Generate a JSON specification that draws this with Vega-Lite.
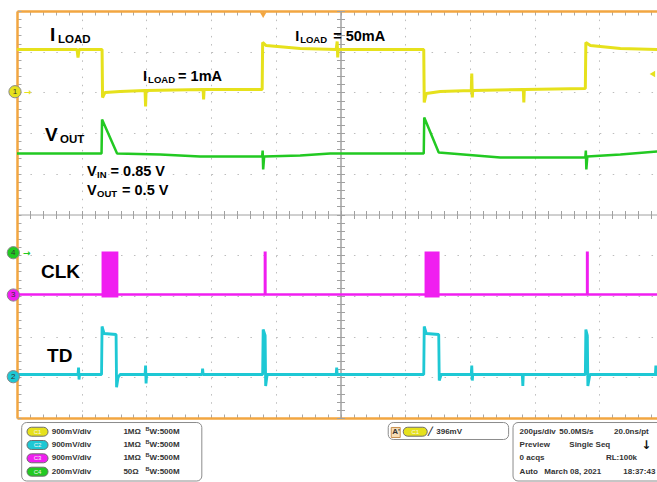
{
  "$schema": "https://vega.github.io/schema/vega-lite/v6.json",
  "width": 640,
  "height": 407,
  "autosize": {"type": "none"},
  "padding": {"left": 17, "top": 11, "right": 0, "bottom": 64},
  "background": "#ffffff",
  "config": {"view": {"stroke": null}},
  "resolve": {"axis": {"x": "independent", "y": "independent"}},
  "datasets": {
    "traces": [
      {"ch":"C1","t":0,"v":9.054},{"ch":"C1","t":133,"v":9.054},{"ch":"C1","t":185.5,"v":9.054},{"ch":"C1","t":188.6,"v":8.857},{"ch":"C1","t":191.7,"v":9.054},{"ch":"C1","t":262.9,"v":9.054},{"ch":"C1","t":264.4,"v":7.875},{"ch":"C1","t":272.1,"v":8.0},{"ch":"C1","t":318.5,"v":8.022},{"ch":"C1","t":395.8,"v":8.047},{"ch":"C1","t":397.4,"v":7.654},{"ch":"C1","t":398.9,"v":8.047},{"ch":"C1","t":575.2,"v":8.071},{"ch":"C1","t":576.7,"v":7.826},{"ch":"C1","t":578.3,"v":8.071},{"ch":"C1","t":757.7,"v":8.071},{"ch":"C1","t":759.2,"v":9.226},{"ch":"C1","t":770,"v":9.152},{"ch":"C1","t":875.2,"v":9.079},{"ch":"C1","t":986.5,"v":9.054},{"ch":"C1","t":989.6,"v":9.251},{"ch":"C1","t":991.2,"v":8.857},{"ch":"C1","t":992.7,"v":9.054},{"ch":"C1","t":1257.1,"v":9.054},{"ch":"C1","t":1258.6,"v":7.752},{"ch":"C1","t":1264.8,"v":7.973},{"ch":"C1","t":1308.1,"v":8.022},{"ch":"C1","t":1404,"v":8.047},{"ch":"C1","t":1405.5,"v":8.464},{"ch":"C1","t":1407.1,"v":7.875},{"ch":"C1","t":1408.6,"v":8.047},{"ch":"C1","t":1564.8,"v":8.071},{"ch":"C1","t":1566.4,"v":7.752},{"ch":"C1","t":1567.9,"v":8.071},{"ch":"C1","t":1756.5,"v":8.096},{"ch":"C1","t":1758.1,"v":9.226},{"ch":"C1","t":1772,"v":9.152},{"ch":"C1","t":1864.8,"v":9.079},{"ch":"C1","t":1979.2,"v":9.054},
      {"ch":"C4","t":0,"v":6.499},{"ch":"C4","t":133,"v":6.499},{"ch":"C4","t":261.3,"v":6.499},{"ch":"C4","t":262.9,"v":7.334},{"ch":"C4","t":309.3,"v":6.499},{"ch":"C4","t":442.2,"v":6.474},{"ch":"C4","t":565.9,"v":6.425},{"ch":"C4","t":757.7,"v":6.425},{"ch":"C4","t":759.2,"v":6.572},{"ch":"C4","t":760.8,"v":6.106},{"ch":"C4","t":763.9,"v":6.425},{"ch":"C4","t":875.2,"v":6.45},{"ch":"C4","t":967.9,"v":6.499},{"ch":"C4","t":1257.1,"v":6.499},{"ch":"C4","t":1258.6,"v":7.383},{"ch":"C4","t":1303.4,"v":6.523},{"ch":"C4","t":1493.7,"v":6.4},{"ch":"C4","t":1756.5,"v":6.4},{"ch":"C4","t":1758.1,"v":6.572},{"ch":"C4","t":1759.6,"v":6.106},{"ch":"C4","t":1762.7,"v":6.425},{"ch":"C4","t":1864.8,"v":6.474},{"ch":"C4","t":1979.2,"v":6.548},
      {"ch":"C3","t":0,"v":3.034},{"ch":"C3","t":1979.2,"v":3.034},
      {"ch":"C2","t":0,"v":1.069},{"ch":"C2","t":188.6,"v":1.069},{"ch":"C2","t":190.2,"v":1.241},{"ch":"C2","t":191.7,"v":0.946},{"ch":"C2","t":193.3,"v":1.069},{"ch":"C2","t":261.3,"v":1.069},{"ch":"C2","t":262.9,"v":2.248},{"ch":"C2","t":269.0,"v":2.076},{"ch":"C2","t":306.2,"v":2.052},{"ch":"C2","t":307.7,"v":0.757},{"ch":"C2","t":312.3,"v":0.995},{"ch":"C2","t":318.5,"v":1.069},{"ch":"C2","t":395.8,"v":1.069},{"ch":"C2","t":397.4,"v":1.29},{"ch":"C2","t":398.9,"v":0.848},{"ch":"C2","t":400.5,"v":1.069},{"ch":"C2","t":572.1,"v":1.069},{"ch":"C2","t":573.6,"v":1.216},{"ch":"C2","t":575.2,"v":1.069},{"ch":"C2","t":759.2,"v":1.069},{"ch":"C2","t":760.8,"v":2.174},{"ch":"C2","t":766.9,"v":2.027},{"ch":"C2","t":768.5,"v":0.786},{"ch":"C2","t":773.1,"v":1.069},{"ch":"C2","t":986.5,"v":1.069},{"ch":"C2","t":988.0,"v":1.241},{"ch":"C2","t":989.6,"v":1.069},{"ch":"C2","t":1257.1,"v":1.069},{"ch":"C2","t":1258.6,"v":2.248},{"ch":"C2","t":1264.8,"v":2.076},{"ch":"C2","t":1303.4,"v":2.052},{"ch":"C2","t":1305.0,"v":0.921},{"ch":"C2","t":1311.2,"v":1.069},{"ch":"C2","t":1404.0,"v":1.069},{"ch":"C2","t":1405.5,"v":1.29},{"ch":"C2","t":1407.1,"v":0.921},{"ch":"C2","t":1408.6,"v":1.069},{"ch":"C2","t":1561.7,"v":1.069},{"ch":"C2","t":1563.3,"v":0.786},{"ch":"C2","t":1564.8,"v":1.069},{"ch":"C2","t":1756.5,"v":1.069},{"ch":"C2","t":1758.1,"v":2.174},{"ch":"C2","t":1762.7,"v":2.027},{"ch":"C2","t":1764.3,"v":0.786},{"ch":"C2","t":1770.5,"v":1.069},{"ch":"C2","t":1973.0,"v":1.069},{"ch":"C2","t":1974.5,"v":1.29},{"ch":"C2","t":1976.1,"v":1.069},{"ch":"C2","t":1979.2,"v":1.069}
    ],
    "bursts": [
      {"t1":261.3,"t2":313.3,"v1":2.961,"v2":4.091},
      {"t1":762.3,"t2":771.6,"v1":3.034,"v2":4.091},
      {"t1":1259.6,"t2":1306.0,"v1":2.961,"v2":4.091},
      {"t1":1758.1,"t2":1767.3,"v1":3.034,"v2":4.091}
    ]
  },
  "layer": [
    {
      "data": {"name": "traces"},
      "mark": {"type": "line", "strokeJoin": "bevel", "strokeCap": "butt"},
      "encoding": {
        "x": {"field": "t", "type": "quantitative", "scale": {"domain": [0, 1978], "nice": false, "zero": false},
          "axis": {"orient": "bottom", "offset": -407, "values": [0,40,80,120,160,200,240,280,320,360,400,440,480,520,560,600,640,680,720,760,800,840,880,920,960,1000,1040,1080,1120,1160,1200,1240,1280,1320,1360,1400,1440,1480,1520,1560,1600,1640,1680,1720,1760,1800,1840,1880,1920,1960],
            "labels": false, "title": null, "grid": false, "domain": true, "domainColor": "#f2a641", "domainWidth": 2.5, "ticks": true, "tickColor": "#a8a8a8", "tickSize": 4, "tickWidth": 1}},
        "y": {"field": "v", "type": "quantitative", "scale": {"domain": [0, 10], "nice": false, "zero": false},
          "axis": {"orient": "right", "offset": -640, "values": [0,0.2,0.4,0.6,0.8,1,1.2,1.4,1.6,1.8,2,2.2,2.4,2.6,2.8,3,3.2,3.4,3.6,3.8,4,4.2,4.4,4.6,4.8,5,5.2,5.4,5.6,5.8,6,6.2,6.4,6.6,6.8,7,7.2,7.4,7.6,7.8,8,8.2,8.4,8.6,8.8,9,9.2,9.4,9.6,9.8,10],
            "labels": false, "title": null, "grid": false, "domain": true, "domainColor": "#f2a641", "domainWidth": 2.5, "ticks": true, "tickColor": "#a8a8a8", "tickSize": 4, "tickWidth": 1}},
        "color": {"field": "ch", "type": "nominal", "scale": {"domain": ["C1","C2","C3","C4"], "range": ["#e6e11c","#1ec8d4","#f01ef0","#22c922"]}, "legend": null},
        "strokeWidth": {"field": "ch", "type": "ordinal", "scale": {"domain": ["C1","C2","C3","C4"], "range": [3, 2.5, 4.5, 3.5]}, "legend": null}
      }
    },
    {
      "data": {"name": "bursts"},
      "mark": {"type": "rect", "color": "#f01ef0"},
      "encoding": {
        "x": {"field": "t1", "type": "quantitative",
          "axis": {"orient": "top", "offset": -407, "values": [0,40,80,120,160,200,240,280,320,360,400,440,480,520,560,600,640,680,720,760,800,840,880,920,960,1000,1040,1080,1120,1160,1200,1240,1280,1320,1360,1400,1440,1480,1520,1560,1600,1640,1680,1720,1760,1800,1840,1880,1920,1960],
            "labels": false, "title": null, "grid": false, "domain": true, "domainColor": "#f2a641", "domainWidth": 2.5, "ticks": true, "tickColor": "#a8a8a8", "tickSize": 4, "tickWidth": 1}},
        "x2": {"field": "t2"},
        "y": {"field": "v1", "type": "quantitative",
          "axis": {"orient": "left", "values": [1,2,3,4,6,7,8,9], "grid": true, "gridColor": "#bdbdbd", "gridDash": [1.5, 11.44], "gridWidth": 1, "domain": false, "ticks": false, "labels": false, "title": null}},
        "y2": {"field": "v2"}
      }
    },
    {
      "data": {"values": [
        {"t":102.1,"v":9.251,"text":"I"},{"t":86.6,"v":6.794,"text":"V"},{"t":74.2,"v":3.452,"text":"CLK"},{"t":92.8,"v":1.388,"text":"TD"}
      ]},
      "mark": {"type": "text", "align": "left", "baseline": "alphabetic", "font": "Liberation Sans", "fontWeight": "bold", "fontSize": 19, "color": "#000000"},
      "encoding": {
        "x": {"field": "t", "type": "quantitative",
          "axis": {"orient": "bottom", "values": [200,400,600,800,1200,1400,1600,1800], "grid": true, "gridColor": "#bdbdbd", "gridDash": [1.5, 6.64], "gridWidth": 1, "domain": false, "ticks": false, "labels": false, "title": null}},
        "y": {"field": "v", "type": "quantitative",
          "axis": {"orient": "right", "offset": -316.5, "values": [0,0.2,0.4,0.6,0.8,1,1.2,1.4,1.6,1.8,2,2.2,2.4,2.6,2.8,3,3.2,3.4,3.6,3.8,4,4.2,4.4,4.6,4.8,5,5.2,5.4,5.6,5.8,6,6.2,6.4,6.6,6.8,7,7.2,7.4,7.6,7.8,8,8.2,8.4,8.6,8.8,9,9.2,9.4,9.6,9.8,10],
            "labels": false, "title": null, "grid": false, "domain": true, "domainColor": "#a0a0a0", "domainWidth": 1, "ticks": true, "tickColor": "#a0a0a0", "tickSize": 4, "tickWidth": 1}},
        "text": {"field": "text", "type": "nominal"}
      }
    },
    {
      "data": {"values": [
        {"t":126.8,"v":9.226,"text":"LOAD"},{"t":133,"v":6.769,"text":"OUT"}
      ]},
      "mark": {"type": "text", "align": "left", "baseline": "alphabetic", "font": "Liberation Sans", "fontWeight": "bold", "fontSize": 11.5, "color": "#000000"},
      "encoding": {
        "x": {"field": "t", "type": "quantitative",
          "axis": {"orient": "bottom", "offset": -203.5, "values": [0,40,80,120,160,200,240,280,320,360,400,440,480,520,560,600,640,680,720,760,800,840,880,920,960,1000,1040,1080,1120,1160,1200,1240,1280,1320,1360,1400,1440,1480,1520,1560,1600,1640,1680,1720,1760,1800,1840,1880,1920,1960],
            "labels": false, "title": null, "grid": false, "domain": true, "domainColor": "#a0a0a0", "domainWidth": 1, "ticks": true, "tickColor": "#a0a0a0", "tickSize": 4, "tickWidth": 1}},
        "y": {"field": "v", "type": "quantitative",
          "axis": {"orient": "left", "offset": -323.5, "values": [0,0.2,0.4,0.6,0.8,1,1.2,1.4,1.6,1.8,2,2.2,2.4,2.6,2.8,3,3.2,3.4,3.6,3.8,4,4.2,4.4,4.6,4.8,5,5.2,5.4,5.6,5.8,6,6.2,6.4,6.6,6.8,7,7.2,7.4,7.6,7.8,8,8.2,8.4,8.6,8.8,9,9.2,9.4,9.6,9.8,10],
            "labels": false, "title": null, "grid": false, "domain": true, "domainColor": "#a0a0a0", "domainWidth": 1, "ticks": true, "tickColor": "#a0a0a0", "tickSize": 4, "tickWidth": 1}},
        "text": {"field": "text", "type": "nominal"}
      }
    },
    {
      "data": {"values": [
        {"t":389.7,"v":8.268,"text":"I"},{"t":497.9,"v":8.268,"text":"= 1mA"},
        {"t":859.7,"v":9.251,"text":"I"},{"t":977.2,"v":9.251,"text":"= 50mA"},
        {"t":216.5,"v":5.934,"text":"V"},{"t":289.2,"v":5.934,"text":"= 0.85 V"},
        {"t":216.5,"v":5.491,"text":"V"},{"t":324.7,"v":5.491,"text":"= 0.5 V"}
      ]},
      "mark": {"type": "text", "align": "left", "baseline": "alphabetic", "font": "Liberation Sans", "fontWeight": "bold", "fontSize": 14.5, "color": "#000000"},
      "encoding": {
        "x": {"field": "t", "type": "quantitative",
          "axis": {"orient": "top", "offset": -203.5, "values": [0,40,80,120,160,200,240,280,320,360,400,440,480,520,560,600,640,680,720,760,800,840,880,920,960,1000,1040,1080,1120,1160,1200,1240,1280,1320,1360,1400,1440,1480,1520,1560,1600,1640,1680,1720,1760,1800,1840,1880,1920,1960],
            "labels": false, "title": null, "grid": false, "domain": false, "ticks": true, "tickColor": "#a0a0a0", "tickSize": 4, "tickWidth": 1}},
        "y": {"field": "v", "type": "quantitative", "axis": null},
        "text": {"field": "text", "type": "nominal"}
      }
    },
    {
      "data": {"values": [
        {"t":405.1,"v":8.219,"text":"LOAD"},{"t":875.2,"v":9.214,"text":"LOAD"},
        {"t":247.4,"v":5.885,"text":"IN"},{"t":247.4,"v":5.442,"text":"OUT"}
      ]},
      "mark": {"type": "text", "align": "left", "baseline": "alphabetic", "font": "Liberation Sans", "fontWeight": "bold", "fontSize": 9.5, "color": "#000000"},
      "encoding": {
        "x": {"field": "t", "type": "quantitative", "axis": null},
        "y": {"field": "v", "type": "quantitative", "axis": null},
        "text": {"field": "text", "type": "nominal"}
      }
    },
    {
      "data": {"values": [
        {"ch":"C1","n":"1","t":-6.2,"v":8.017},{"ch":"C4","n":"4","t":-11.4,"v":4.061},
        {"ch":"C3","n":"3","t":-11.4,"v":3.022},{"ch":"C2","n":"2","t":-11.4,"v":1.015}
      ]},
      "layer": [
        {
          "mark": {"type": "point", "shape": "circle", "filled": true, "size": 150, "opacity": 1, "stroke": "#8a8a8a", "strokeWidth": 1},
          "encoding": {
            "x": {"field": "t", "type": "quantitative", "axis": null},
            "y": {"field": "v", "type": "quantitative", "axis": null},
            "color": {"field": "ch", "type": "nominal", "legend": null}
          }
        },
        {
          "mark": {"type": "text", "align": "center", "baseline": "middle", "font": "Liberation Sans", "fontSize": 8, "color": "#333333"},
          "encoding": {
            "x": {"field": "t", "type": "quantitative", "axis": null},
            "y": {"field": "v", "type": "quantitative", "axis": null},
            "text": {"field": "n", "type": "nominal"}
          }
        }
      ]
    },
    {
      "data": {"values": [
        {"ch":"C1","t":21.6,"v":8.017},{"ch":"C4","t":18.6,"v":4.061}
      ]},
      "mark": {"type": "text", "align": "left", "baseline": "middle", "font": "DejaVu Sans", "fontWeight": "bold", "fontSize": 9, "text": "→"},
      "encoding": {
        "x": {"field": "t", "type": "quantitative", "axis": null},
        "y": {"field": "v", "type": "quantitative", "axis": null},
        "color": {"field": "ch", "type": "nominal", "legend": null}
      }
    },
    {
      "data": {"values": [{"t":760.8,"v":9.9}]},
      "mark": {"type": "point", "shape": "triangle-down", "filled": true, "size": 45, "color": "#f2a641", "opacity": 1},
      "encoding": {
        "x": {"field": "t", "type": "quantitative", "axis": null},
        "y": {"field": "v", "type": "quantitative", "axis": null}
      }
    },
    {
      "data": {"values": [{"t":1963.7,"v":8.452}]},
      "mark": {"type": "point", "shape": "triangle-left", "filled": true, "size": 40, "color": "#e6e11c", "opacity": 1},
      "encoding": {
        "x": {"field": "t", "type": "quantitative", "axis": null},
        "y": {"field": "v", "type": "quantitative", "axis": null}
      }
    },
    {
      "data": {"values": [
        {"t1":14.5,"t2":571.2,"v1":-0.111,"v2":-1.548},
        {"t1":1147.3,"t2":1519.4,"v1":-0.111,"v2":-0.528},
        {"t1":1533,"t2":2100,"v1":-0.111,"v2":-1.548}
      ]},
      "mark": {"type": "rect", "fill": "#ffffff", "stroke": "#8c8c8c", "strokeWidth": 1, "cornerRadius": 5},
      "encoding": {
        "x": {"field": "t1", "type": "quantitative", "axis": null},
        "x2": {"field": "t2"},
        "y": {"field": "v1", "type": "quantitative", "axis": null},
        "y2": {"field": "v2"}
      }
    },
    {
      "data": {"values": [{"t1":1156.6,"t2":1184.4,"v1":-0.233,"v2":-0.479}]},
      "mark": {"type": "rect", "fill": "#f6dcb4", "stroke": "#c89050", "strokeWidth": 1},
      "encoding": {
        "x": {"field": "t1", "type": "quantitative", "axis": null},
        "x2": {"field": "t2"},
        "y": {"field": "v1", "type": "quantitative", "axis": null},
        "y2": {"field": "v2"}
      }
    },
    {
      "data": {"values": [
        {"ch":"C1","label":"C1","t1":30.9,"t2":95.9,"tc":63.4,"v1":-0.227,"v2":-0.447,"vc":-0.337},
        {"ch":"C2","label":"C2","t1":30.9,"t2":95.9,"tc":63.4,"v1":-0.553,"v2":-0.773,"vc":-0.663},
        {"ch":"C3","label":"C3","t1":30.9,"t2":95.9,"tc":63.4,"v1":-0.880,"v2":-1.100,"vc":-0.990},
        {"ch":"C4","label":"C4","t1":30.9,"t2":95.9,"tc":63.4,"v1":-1.209,"v2":-1.429,"vc":-1.319},
        {"ch":"C1","label":"C1","t1":1193.7,"t2":1267.9,"tc":1230.8,"v1":-0.227,"v2":-0.447,"vc":-0.337}
      ]},
      "layer": [
        {
          "mark": {"type": "rect", "cornerRadius": 5, "stroke": "#6e6e6e", "strokeWidth": 1},
          "encoding": {
            "x": {"field": "t1", "type": "quantitative", "axis": null},
            "x2": {"field": "t2"},
            "y": {"field": "v1", "type": "quantitative", "axis": null},
            "y2": {"field": "v2"},
            "color": {"field": "ch", "type": "nominal", "legend": null}
          }
        },
        {
          "mark": {"type": "text", "align": "center", "baseline": "middle", "font": "Liberation Sans", "fontSize": 6, "color": "#f4f4f4"},
          "encoding": {
            "x": {"field": "tc", "type": "quantitative", "axis": null},
            "y": {"field": "vc", "type": "quantitative", "axis": null},
            "text": {"field": "label", "type": "nominal"}
          }
        }
      ]
    },
    {
      "data": {"values": [
        {"t":107.3,"v":-0.337,"text":"900mV/div"},{"t":328.8,"v":-0.337,"text":"1MΩ"},{"t":409.8,"v":-0.337,"text":"W:500M"},
        {"t":107.3,"v":-0.663,"text":"900mV/div"},{"t":328.8,"v":-0.663,"text":"1MΩ"},{"t":409.8,"v":-0.663,"text":"W:500M"},
        {"t":107.3,"v":-0.990,"text":"900mV/div"},{"t":328.8,"v":-0.990,"text":"1MΩ"},{"t":409.8,"v":-0.990,"text":"W:500M"},
        {"t":107.3,"v":-1.319,"text":"200mV/div"},{"t":328.8,"v":-1.319,"text":"50Ω"},{"t":409.8,"v":-1.319,"text":"W:500M"},
        {"t":1159.7,"v":-0.337,"text":"A'"},{"t":1271,"v":-0.337,"text":"╱"},{"t":1295.8,"v":-0.337,"text":"396mV"},
        {"t":1553.4,"v":-0.337,"text":"200µs/div"},{"t":1676,"v":-0.337,"text":"50.0MS/s"},
        {"t":1553.4,"v":-0.663,"text":"Preview"},{"t":1707,"v":-0.663,"text":"Single Seq"},
        {"t":1553.4,"v":-0.990,"text":"0 acqs"},
        {"t":1553.4,"v":-1.319,"text":"Auto"},{"t":1629.7,"v":-1.319,"text":"March 08, 2021"}
      ]},
      "mark": {"type": "text", "align": "left", "baseline": "middle", "font": "Liberation Sans", "fontWeight": "bold", "fontSize": 8, "color": "#333333"},
      "encoding": {
        "x": {"field": "t", "type": "quantitative", "axis": null},
        "y": {"field": "v", "type": "quantitative", "axis": null},
        "text": {"field": "text", "type": "nominal"}
      }
    },
    {
      "data": {"values": [
        {"t":397.4,"v":-0.267},{"t":397.4,"v":-0.593},{"t":397.4,"v":-0.920},{"t":397.4,"v":-1.249}
      ]},
      "mark": {"type": "text", "align": "left", "baseline": "middle", "font": "Liberation Sans", "fontWeight": "bold", "fontSize": 5.5, "color": "#333333", "text": "B"},
      "encoding": {
        "x": {"field": "t", "type": "quantitative", "axis": null},
        "y": {"field": "v", "type": "quantitative", "axis": null}
      }
    },
    {
      "data": {"values": [
        {"t":1952.4,"v":-0.337,"text":"20.0ns/pt"},{"t":1916.4,"v":-0.990,"text":"RL:100k"},{"t":1973.0,"v":-1.319,"text":"18:37:43"}
      ]},
      "mark": {"type": "text", "align": "right", "baseline": "middle", "font": "Liberation Sans", "fontWeight": "bold", "fontSize": 8, "color": "#333333"},
      "encoding": {
        "x": {"field": "t", "type": "quantitative", "axis": null},
        "y": {"field": "v", "type": "quantitative", "axis": null},
        "text": {"field": "text", "type": "nominal"}
      }
    },
    {
      "data": {"values": [{"t":1945,"v":-0.663}]},
      "mark": {"type": "text", "align": "center", "baseline": "middle", "font": "DejaVu Sans", "fontWeight": "bold", "fontSize": 12, "color": "#111111", "text": "↓"},
      "encoding": {
        "x": {"field": "t", "type": "quantitative", "axis": null},
        "y": {"field": "v", "type": "quantitative", "axis": null}
      }
    }
  ]
}
